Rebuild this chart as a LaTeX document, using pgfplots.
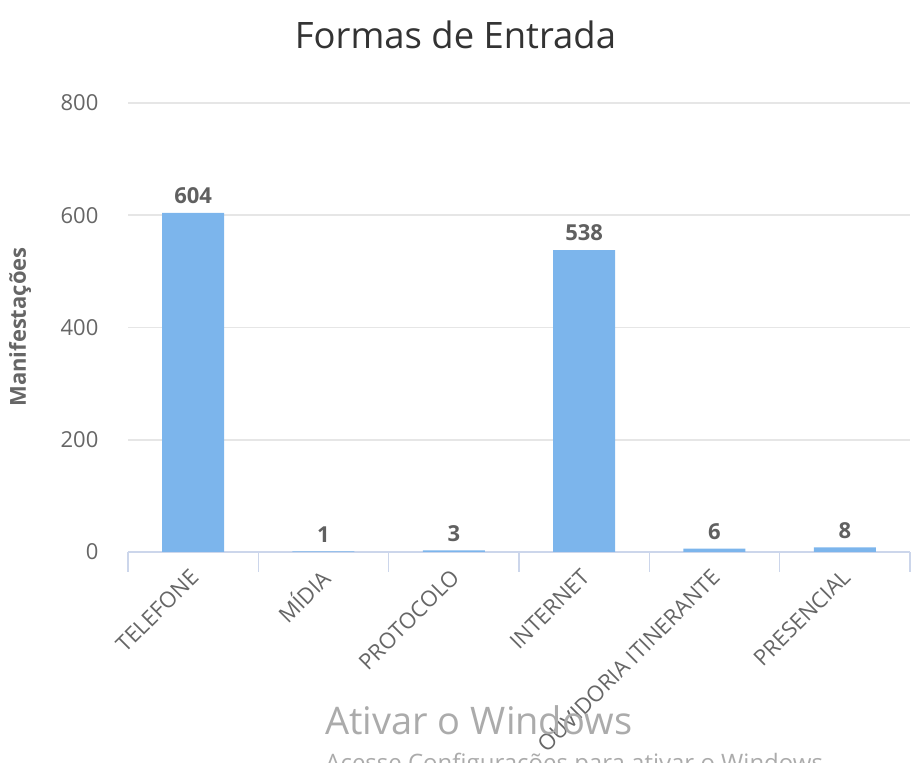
\documentclass[border=0pt]{standalone}
\usepackage{pgfplots}
\pgfplotsset{compat=1.18}
\usepackage{fontspec}
\setmainfont{Open Sans}
\definecolor{barc}{HTML}{7CB5EC}
\definecolor{axisc}{HTML}{CCD6EB}
\definecolor{gridc}{HTML}{E6E6E6}
\definecolor{labelc}{HTML}{666666}
\definecolor{titlec}{HTML}{333333}
\definecolor{dlc}{HTML}{606060}
\definecolor{wmc}{HTML}{ABABAB}
\begin{document}
\begin{tikzpicture}
\useasboundingbox (0,0) rectangle (460.5pt,381.5pt);
\begin{axis}[
  at={(64pt,105.5pt)}, anchor=south west,
  scale only axis, width=391pt, height=224.5pt,
  xmin=-0.5, xmax=5.5, ymin=0, ymax=800,
  ytick={0,200,400,600,800},
  axis x line*=bottom, axis y line*=left,
  x axis line style={-, draw=axisc, line width=0.8pt},
  y axis line style={draw=none},
  ymajorgrids, grid style={draw=gridc, line width=0.8pt},
  ytick style={draw=none},
  xtick={0,1,2,3,4,5},
  xticklabels={TELEFONE,MÍDIA,PROTOCOLO,INTERNET,OUVIDORIA ITINERANTE,PRESENCIAL},
  major x tick style={draw=none},
  minor xtick={-0.5,0.5,1.5,2.5,3.5,4.5,5.5},
  minor x tick style={draw=axisc, line width=0.8pt},
  minor tick length=10pt, tick align=outside,
  xticklabel style={rotate=45, anchor=east, font=\fontsize{11}{13}\selectfont, text=labelc, xshift=-0.6pt, yshift=-5pt},
  yticklabel style={font=\fontsize{11}{13}\selectfont, text=labelc, xshift=-7pt},
  /pgf/number format/assume math mode=true,
  ybar, bar width=31pt,
  nodes near coords,
  every node near coord/.append style={font=\bfseries\fontsize{11}{13}\selectfont, text=dlc, yshift=1pt},
]
\addplot[fill=barc, draw=none] coordinates {(0,604) (1,1) (2,3) (3,538) (4,6) (5,8)};
\end{axis}
\node[font=\fontsize{18.2}{21}\selectfont, text=titlec] at (227.75pt,364pt) {Formas de Entrada};
\node[rotate=90, font=\bfseries\fontsize{11}{13}\selectfont, text=labelc] at (10pt,218pt) {Manifestações};
\node[anchor=base west, inner sep=0pt, font=\fontsize{19}{22}\selectfont, text=wmc] at (162.5pt,14pt) {Ativar o Windows};
\node[anchor=base west, inner sep=0pt, font=\fontsize{12}{14}\selectfont, text=wmc] at (162.5pt,-4.5pt) {Acesse Configurações para ativar o Windows};
\end{tikzpicture}
\end{document}
